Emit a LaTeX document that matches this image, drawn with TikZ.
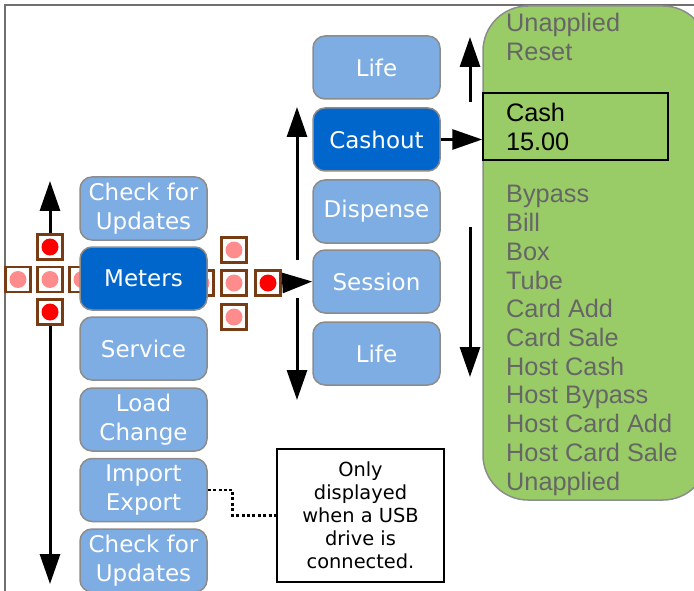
\documentclass[tikz,border=0pt]{standalone}
\usepackage{fontspec}
\setmainfont{DejaVu Sans}
\newfontfamily\listfont{Liberation Sans}
\usetikzlibrary{arrows.meta}
\definecolor{menublue}{HTML}{7DADE2}
\definecolor{selblue}{HTML}{0066CC}
\definecolor{boxgray}{HTML}{8C8C8C}
\definecolor{listgreen}{HTML}{99CC66}
\definecolor{listgray}{HTML}{666666}
\definecolor{padbrown}{HTML}{783C14}
\definecolor{padpink}{HTML}{FF8C8C}
\definecolor{padred}{HTML}{FF0000}
\tikzset{
  menu/.style={draw=boxgray, line width=1.5pt, fill=menublue, rounded corners=12pt,
    minimum width=127pt, minimum height=63pt, inner sep=0pt, text=white, align=center,
    font=\fontsize{23}{29}\selectfont},
  selmenu/.style={menu, fill=selblue},
  pad/.style={draw=padbrown, fill=white, line width=2.2pt, minimum size=25pt, inner sep=0pt,
    path picture={\fill[#1] (path picture bounding box.center) circle[radius=8.5pt];}},
  arr/.style={line width=3pt, -{Triangle[length=30pt,width=20pt]}},
  listtext/.style={anchor=base west, inner sep=0pt, text=listgray,
    font=\listfont\fontsize{25.3}{29}\selectfont},
}
\begin{document}
\begin{tikzpicture}[x=1pt,y=-1pt]
    \useasboundingbox (0,0) rectangle (694,591);
    % 枠
    \draw[boxgray!80!black, line width=2pt] (4.5,591) -- (4.5,5) -- (694,5);

    % 十字キー (左)
    \node[pad=padpink] (ll) at (18,279.5) {};
    \node[pad=padpink] (lc) at (50,279.5) {};
    \node[pad=padpink] (lr) at (82,279.5) {};
    \node[pad=padred] (lu) at (50,247) {};
    \node[pad=padred] (ld) at (50,312) {};
    % 十字キー (右)
    \node[pad=padpink] (rl) at (201,283) {};
    \node[pad=padpink] (rc) at (234,283) {};
    \node[pad=padred] (rr) at (268,283) {};
    \node[pad=padpink] (ru) at (234,250) {};
    \node[pad=padpink] (rd) at (234,317) {};

    % メニュー (左)
    \node[menu] (chk) at (143.5,208.5) {Check for\\Updates};
    \node[selmenu] (met) at (143.5,278.5) {Meters};
    \node[menu] (srv) at (143.5,348.5) {Service};
    \node[menu] (load) at (143.5,419.5) {Load\\Change};
    \node[menu] (imp) at (143.5,490) {Import\\Export};
    \node[menu] (chkb) at (143.5,560.5) {Check for\\Updates};

    % メニュー (中)
    \node[menu] (lifea) at (376.5,67.5) {Life};
    \node[selmenu] (cash) at (376.5,139.5) {Cashout};
    \node[menu] (disp) at (376.5,211.5) {Dispense};
    \node[menu] (sess) at (376.5,281.5) {Session};
    \node[menu] (lifeb) at (376.5,353.5) {Life};

    % 一覧
    \draw[boxgray, line width=1.5pt, fill=listgreen, rounded corners=45pt] (483,6) rectangle (708,500);
    \node[listtext] (ua) at (506,32) {Unapplied};
    \node[listtext] (rs) at (506,60.5) {Reset};
    \node[draw=black, line width=1.5pt, fill=listgreen, minimum height=67pt, text width=139pt,
          inner xsep=23pt, align=left, font=\listfont\fontsize{25.3}{29}\selectfont] (cv) at (575.5,126.5) {Cash\\15.00};
    \foreach \t [count=\i] in {Bypass,Bill,Box,Tube,Card Add,Card Sale,Host Cash,Host Bypass,Host Card Add,Host Card Sale,Unapplied} {
        \node[listtext] (li\i) at (506,174.3+28.7*\i) {\t};
    }

    % 注記
    \node[draw=black, line width=1.5pt, fill=white, minimum width=167pt, minimum height=133pt,
          align=center, font=\fontsize{19.4}{23}\selectfont] (usb) at (360.5,515.5) {Only\\displayed\\when a USB\\drive is\\connected.};
    \draw[line width=2.8pt, dash pattern=on 3pt off 2.4pt] (imp.east) -- ++(25,0) |- (usb.west);

    % 矢印
    \coordinate (lt) at (50,181);
    \coordinate (lb) at (50,584);
    \coordinate (ma) at (297,260);
    \coordinate (mt) at (297,107);
    \coordinate (mb) at (297,298);
    \coordinate (me) at (297,400);
    \coordinate (ga) at (470,102);
    \coordinate (gt) at (470,37);
    \coordinate (gb) at (470,227);
    \coordinate (ge) at (470,377);
    \draw[arr] (lu.north) -- (lt);
    \draw[arr] (ld.south) -- (lb);
    \draw[arr] (rr.east) -- (sess.west);
    \draw[arr] (ma) -- (mt);
    \draw[arr] (mb) -- (me);
    \draw[arr] (cash.east) -- (cash.east -| cv.west);
    \draw[arr] (ga) -- (gt);
    \draw[arr] (gb) -- (ge);
\end{tikzpicture}
\end{document}
